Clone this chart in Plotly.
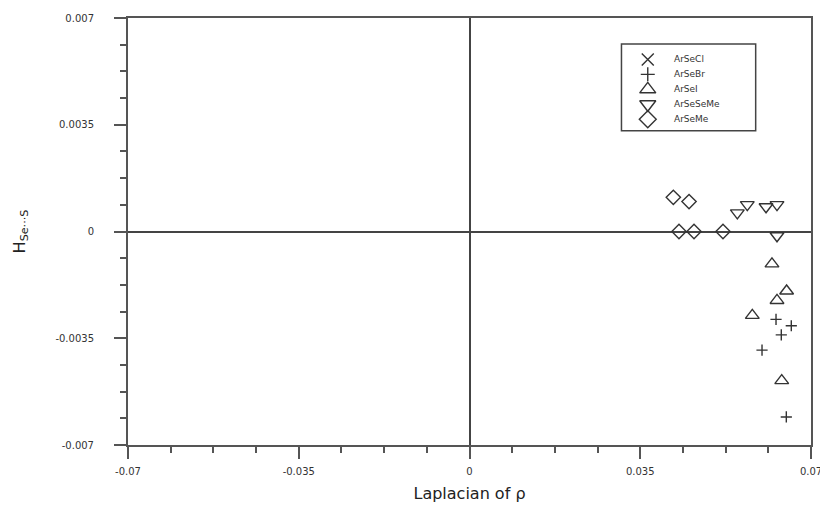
import plotly.graph_objects as go

series_names = ["ArSeCl", "ArSeBr", "ArSeI", "ArSeSeMe", "ArSeMe"]
series_symbols = ["x-thin-open", "cross-thin-open", "triangle-up-open", "triangle-down-open", "diamond-open"]
series_sizes = [10, 8, 12, 12, 11]

arsecl_x = []
arsecl_y = []
arsebr_x = [0.06283, 0.06596, 0.06391, 0.05996, 0.06494]
arsebr_y = [-0.00288, -0.00309, -0.00339, -0.00389, -0.00608]
arsei_x = [0.0620, 0.0650, 0.06303, 0.05797, 0.0640]
arsei_y = [-0.00106, -0.00195, -0.00226, -0.00275, -0.00489]
arseseme_x = [0.0549, 0.05694, 0.06078, 0.06303, 0.06303]
arseseme_y = [0.00061, 0.00088, 0.00081, 0.00088, -0.00014]
arseme_x = [0.04178, 0.0450, 0.04294, 0.04602, 0.05196]
arseme_y = [0.00112, 0.00098, 0.0, 0.0, 0.0]

xs = [arsecl_x, arsebr_x, arsei_x, arseseme_x, arseme_x]
ys = [arsecl_y, arsebr_y, arsei_y, arseseme_y, arseme_y]

x_ticks = [-0.07, -0.035, 0, 0.035, 0.07]
x_labels = ["-0.07", "-0.035", "0", "0.035", "0.07"]
y_ticks = [-0.007, -0.0035, 0, 0.0035, 0.007]
y_labels = ["-0.007", "-0.0035", "0", "0.0035", "0.007"]

ink = "#333333"
axis_col = "#555555"

fig = go.Figure()
for name, sym, sz, x, y in zip(series_names, series_symbols, series_sizes, xs, ys):
    fig.add_trace(go.Scatter(
        x=x, y=y, mode="markers", name=name, showlegend=False,
        marker=dict(symbol=sym, size=sz, color=ink, line=dict(color=ink, width=1.4)),
    ))

# hand-made legend (box, symbols on an invisible overlay axis, labels as annotations)
leg_x0, leg_x1, leg_y0, leg_y1 = 0.7225, 0.919, 0.736, 0.939
leg_sym_x = 0.761
leg_txt_x = 0.797
leg_rows = [0.903, 0.868, 0.833, 0.798, 0.763]

fig.add_shape(type="rect", xref="paper", yref="paper", x0=leg_x0, x1=leg_x1, y0=leg_y0, y1=leg_y1,
              line=dict(color="#444444", width=1.5), fillcolor="rgba(0,0,0,0)", layer="above")
for name, sym, sz, ry in zip(series_names, series_symbols, series_sizes, leg_rows):
    fig.add_trace(go.Scatter(
        x=[leg_sym_x], y=[ry], xaxis="x2", yaxis="y2", mode="markers", showlegend=False,
        hoverinfo="skip",
        marker=dict(symbol=sym, size=sz + 2, color=ink, line=dict(color=ink, width=1.4)),
    ))
    fig.add_annotation(x=leg_txt_x, y=ry, xref="paper", yref="paper", text=name, showarrow=False,
                       xanchor="left", yanchor="middle",
                       font=dict(family="DejaVu Sans", size=9, color=ink))

axis_common = dict(
    showline=True, linecolor=axis_col, linewidth=2, mirror=True,
    ticks="outside", ticklen=12, tickwidth=2, tickcolor=axis_col,
    showgrid=False, zeroline=True, zerolinecolor="#444444", zerolinewidth=1.5,
    tickfont=dict(family="DejaVu Sans", size=10, color=ink),
    tickmode="array", ticklabeloverflow="allow", automargin=False,
)

fig.update_layout(xaxis=dict(**axis_common, range=[-0.07, 0.07], tickvals=x_ticks, ticktext=x_labels,
    minor=dict(ticks="outside", ticklen=6, tickwidth=1.5, tickcolor=axis_col, dtick=0.00875, tick0=0, showgrid=False),
    title=dict(text="Laplacian of ρ", font=dict(family="DejaVu Sans", size=16, color="#222222"), standoff=12),
    ticklabelstandoff=4))
fig.update_layout(yaxis=dict(**axis_common, range=[-0.007, 0.007], tickvals=y_ticks, ticktext=y_labels,
    minor=dict(ticks="outside", ticklen=6, tickwidth=1.5, tickcolor=axis_col, dtick=0.000875, tick0=0, showgrid=False),
    title=dict(text="H<sub>Se···S</sub>", font=dict(family="DejaVu Sans", size=16, color="#222222"), standoff=26),
    ticklabelstandoff=18))

fig.update_layout(
    xaxis2=dict(overlaying="x", range=[0, 1], visible=False, domain=[0, 1], anchor="y2"),
    yaxis2=dict(overlaying="y", range=[0, 1], visible=False, domain=[0, 1], anchor="x2"),
    width=820, height=515,
    margin=dict(l=128, r=9, t=18, b=70),
    paper_bgcolor="white", plot_bgcolor="white",
    showlegend=False,
)

fig.write_html("out.html")
